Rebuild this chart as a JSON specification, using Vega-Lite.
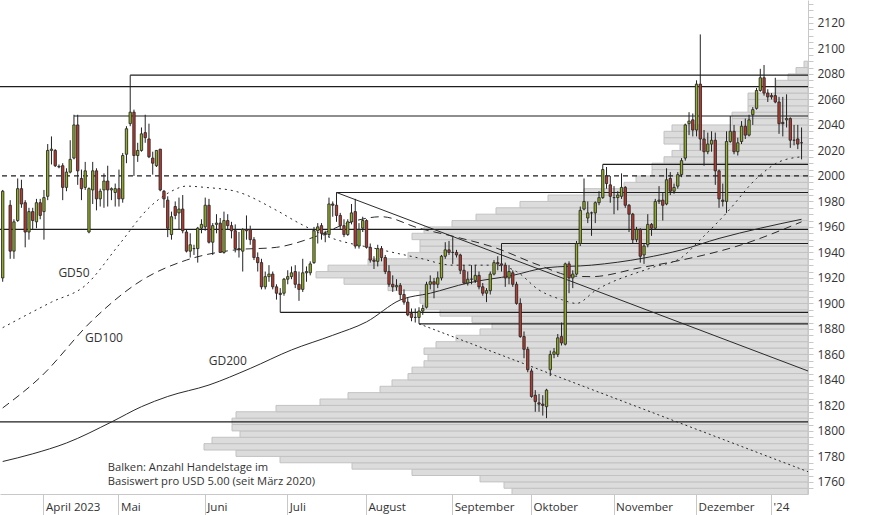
{
"$schema": "https://vega.github.io/schema/vega-lite/v6.json",
"width": 808, "height": 494,
"autosize": {"type": "none"},
"padding": {"left": 0, "top": 0, "right": 66, "bottom": 21},
"background": "white",
"config": {"view": {"stroke": null}, "font": "Open Sans"},
"datasets": {
"profile": [{"lo":1750,"hi":1755,"n":74},{"lo":1755,"hi":1760,"n":76},{"lo":1760,"hi":1765,"n":82},{"lo":1765,"hi":1770,"n":99},{"lo":1770,"hi":1775,"n":114},{"lo":1775,"hi":1780,"n":132},{"lo":1780,"hi":1785,"n":143},{"lo":1785,"hi":1790,"n":151},{"lo":1790,"hi":1795,"n":149},{"lo":1795,"hi":1800,"n":142},{"lo":1800,"hi":1805,"n":144},{"lo":1805,"hi":1810,"n":144},{"lo":1810,"hi":1815,"n":143},{"lo":1815,"hi":1820,"n":133},{"lo":1820,"hi":1825,"n":122},{"lo":1825,"hi":1830,"n":115},{"lo":1830,"hi":1835,"n":107},{"lo":1835,"hi":1840,"n":104},{"lo":1840,"hi":1845,"n":100},{"lo":1845,"hi":1850,"n":99},{"lo":1850,"hi":1855,"n":96},{"lo":1855,"hi":1860,"n":95},{"lo":1860,"hi":1865,"n":96},{"lo":1865,"hi":1870,"n":93},{"lo":1870,"hi":1875,"n":88},{"lo":1875,"hi":1880,"n":82},{"lo":1880,"hi":1885,"n":79},{"lo":1885,"hi":1890,"n":84},{"lo":1890,"hi":1895,"n":92},{"lo":1895,"hi":1900,"n":96},{"lo":1900,"hi":1905,"n":97},{"lo":1905,"hi":1910,"n":97},{"lo":1910,"hi":1915,"n":105},{"lo":1915,"hi":1920,"n":116},{"lo":1920,"hi":1925,"n":123},{"lo":1925,"hi":1930,"n":120},{"lo":1930,"hi":1935,"n":110},{"lo":1935,"hi":1940,"n":100},{"lo":1940,"hi":1945,"n":97},{"lo":1945,"hi":1950,"n":97},{"lo":1950,"hi":1955,"n":99},{"lo":1955,"hi":1960,"n":96},{"lo":1960,"hi":1965,"n":89},{"lo":1965,"hi":1970,"n":83},{"lo":1970,"hi":1975,"n":78},{"lo":1975,"hi":1980,"n":72},{"lo":1980,"hi":1985,"n":65},{"lo":1985,"hi":1990,"n":56},{"lo":1990,"hi":1995,"n":46},{"lo":1995,"hi":2000,"n":43},{"lo":2000,"hi":2005,"n":39},{"lo":2005,"hi":2010,"n":39},{"lo":2010,"hi":2015,"n":36},{"lo":2015,"hi":2020,"n":34},{"lo":2020,"hi":2025,"n":32},{"lo":2025,"hi":2030,"n":36},{"lo":2030,"hi":2035,"n":36},{"lo":2035,"hi":2040,"n":34},{"lo":2040,"hi":2045,"n":19},{"lo":2045,"hi":2050,"n":19},{"lo":2050,"hi":2055,"n":15},{"lo":2055,"hi":2060,"n":15},{"lo":2060,"hi":2065,"n":15},{"lo":2065,"hi":2070,"n":8},{"lo":2070,"hi":2075,"n":8},{"lo":2075,"hi":2080,"n":5},{"lo":2080,"hi":2085,"n":3},{"lo":2085,"hi":2090,"n":1}],
"candles": [
{"d":"2023-03-17","o":1920,"h":1989,"l":1917,"c":1988},
{"d":"2023-03-21","o":1977,"h":1981,"l":1935,"c":1941},
{"d":"2023-03-22","o":1941,"h":1966,"l":1935,"c":1964},
{"d":"2023-03-23","o":1965,"h":1998,"l":1964,"c":1990},
{"d":"2023-03-24","o":1990,"h":1997,"l":1975,"c":1978},
{"d":"2023-03-27","o":1979,"h":1981,"l":1944,"c":1956},
{"d":"2023-03-28","o":1956,"h":1975,"l":1950,"c":1972},
{"d":"2023-03-29","o":1972,"h":1975,"l":1958,"c":1965},
{"d":"2023-03-30","o":1964,"h":1982,"l":1959,"c":1979},
{"d":"2023-03-31","o":1979,"h":1982,"l":1966,"c":1969},
{"d":"2023-04-03","o":1972,"h":1989,"l":1950,"c":1983},
{"d":"2023-04-04","o":1984,"h":2025,"l":1981,"c":2020},
{"d":"2023-04-05","o":2020,"h":2031,"l":2009,"c":2021},
{"d":"2023-04-06","o":2020,"h":2021,"l":2007,"c":2008},
{"d":"2023-04-07","o":2007,"h":2009,"l":2006,"c":2007.5},
{"d":"2023-04-10","o":2008,"h":2010,"l":1981,"c":1991},
{"d":"2023-04-11","o":1991,"h":2006,"l":1988,"c":2003},
{"d":"2023-04-12","o":2003,"h":2028,"l":2002,"c":2013},
{"d":"2023-04-13","o":2014,"h":2048,"l":2013,"c":2040},
{"d":"2023-04-14","o":2040,"h":2048,"l":1993,"c":2004},
{"d":"2023-04-17","o":1998,"h":2005,"l":1981,"c":1990},
{"d":"2023-04-18","o":1991,"h":2011,"l":1989,"c":2004},
{"d":"2023-04-19","o":1956,"h":1991,"l":1955,"c":1990},
{"d":"2023-04-20","o":1989,"h":2011,"l":1978,"c":2004},
{"d":"2023-04-21","o":2004,"h":2006,"l":1973,"c":1982},
{"d":"2023-04-24","o":1982,"h":1990,"l":1976,"c":1988},
{"d":"2023-04-25","o":1989,"h":2002,"l":1975,"c":1996},
{"d":"2023-04-26","o":1996,"h":2008,"l":1976,"c":1989},
{"d":"2023-04-27","o":1989,"h":1991,"l":1981,"c":1990},
{"d":"2023-04-28","o":1987,"h":1994,"l":1976,"c":1990},
{"d":"2023-05-01","o":1990,"h":2005,"l":1976,"c":1982},
{"d":"2023-05-02","o":1982,"h":2018,"l":1979,"c":2016},
{"d":"2023-05-03","o":2017,"h":2039,"l":2010,"c":2037},
{"d":"2023-05-04","o":2041,"h":2079,"l":2039,"c":2050},
{"d":"2023-05-05","o":2050,"h":2052,"l":2000,"c":2016},
{"d":"2023-05-08","o":2016,"h":2026,"l":2011,"c":2020},
{"d":"2023-05-09","o":2020,"h":2038,"l":2019,"c":2033},
{"d":"2023-05-10","o":2034,"h":2048,"l":2026,"c":2030},
{"d":"2023-05-11","o":2029,"h":2041,"l":2014,"c":2015},
{"d":"2023-05-12","o":2014,"h":2019,"l":2001,"c":2010},
{"d":"2023-05-15","o":2008,"h":2020,"l":2007,"c":2020},
{"d":"2023-05-16","o":2021,"h":2021,"l":1988,"c":1989},
{"d":"2023-05-17","o":1988,"h":1989,"l":1975,"c":1982},
{"d":"2023-05-18","o":1981,"h":1984,"l":1952,"c":1959},
{"d":"2023-05-19","o":1954,"h":1972,"l":1950,"c":1968},
{"d":"2023-05-22","o":1976,"h":1980,"l":1966,"c":1969},
{"d":"2023-05-23","o":1971,"h":1983,"l":1958,"c":1974},
{"d":"2023-05-24","o":1974,"h":1985,"l":1955,"c":1957},
{"d":"2023-05-25","o":1956,"h":1958,"l":1940,"c":1941},
{"d":"2023-05-26","o":1941,"h":1955,"l":1936,"c":1946},
{"d":"2023-05-29","o":1943,"h":1946,"l":1938,"c":1943},
{"d":"2023-05-30","o":1943,"h":1960,"l":1932,"c":1959},
{"d":"2023-05-31","o":1959,"h":1966,"l":1955,"c":1962},
{"d":"2023-06-01","o":1960,"h":1983,"l":1957,"c":1977},
{"d":"2023-06-02","o":1977,"h":1982,"l":1947,"c":1948},
{"d":"2023-06-05","o":1948,"h":1963,"l":1938,"c":1961},
{"d":"2023-06-06","o":1962,"h":1970,"l":1955,"c":1963},
{"d":"2023-06-07","o":1963,"h":1967,"l":1940,"c":1940},
{"d":"2023-06-08","o":1940,"h":1972,"l":1939,"c":1965},
{"d":"2023-06-09","o":1965,"h":1970,"l":1958,"c":1961},
{"d":"2023-06-12","o":1961,"h":1964,"l":1951,"c":1957},
{"d":"2023-06-13","o":1957,"h":1962,"l":1940,"c":1943},
{"d":"2023-06-14","o":1943,"h":1956,"l":1936,"c":1942},
{"d":"2023-06-15","o":1941,"h":1959,"l":1925,"c":1958},
{"d":"2023-06-16","o":1958,"h":1969,"l":1950,"c":1957},
{"d":"2023-06-19","o":1958,"h":1961,"l":1946,"c":1950},
{"d":"2023-06-20","o":1950,"h":1952,"l":1934,"c":1936},
{"d":"2023-06-21","o":1936,"h":1940,"l":1925,"c":1932},
{"d":"2023-06-22","o":1932,"h":1935,"l":1911,"c":1913},
{"d":"2023-06-23","o":1913,"h":1925,"l":1911,"c":1921},
{"d":"2023-06-26","o":1921,"h":1930,"l":1917,"c":1923},
{"d":"2023-06-27","o":1923,"h":1925,"l":1911,"c":1913},
{"d":"2023-06-28","o":1913,"h":1915,"l":1903,"c":1908},
{"d":"2023-06-29","o":1908,"h":1912,"l":1893,"c":1907},
{"d":"2023-06-30","o":1908,"h":1920,"l":1906,"c":1919},
{"d":"2023-07-03","o":1919,"h":1926,"l":1915,"c":1921},
{"d":"2023-07-04","o":1921,"h":1929,"l":1919,"c":1924},
{"d":"2023-07-05","o":1925,"h":1930,"l":1912,"c":1915},
{"d":"2023-07-06","o":1915,"h":1925,"l":1902,"c":1911},
{"d":"2023-07-07","o":1911,"h":1935,"l":1909,"c":1924},
{"d":"2023-07-10","o":1924,"h":1929,"l":1917,"c":1925},
{"d":"2023-07-11","o":1924,"h":1933,"l":1922,"c":1931},
{"d":"2023-07-12","o":1932,"h":1960,"l":1931,"c":1957},
{"d":"2023-07-13","o":1957,"h":1963,"l":1947,"c":1960},
{"d":"2023-07-14","o":1961,"h":1963,"l":1950,"c":1955},
{"d":"2023-07-17","o":1955,"h":1957,"l":1948,"c":1954},
{"d":"2023-07-18","o":1954,"h":1983,"l":1952,"c":1978},
{"d":"2023-07-19","o":1978,"h":1980,"l":1968,"c":1977},
{"d":"2023-07-20","o":1977,"h":1987,"l":1964,"c":1969},
{"d":"2023-07-21","o":1969,"h":1971,"l":1958,"c":1961},
{"d":"2023-07-24","o":1961,"h":1966,"l":1952,"c":1954},
{"d":"2023-07-25","o":1954,"h":1966,"l":1953,"c":1964},
{"d":"2023-07-26","o":1964,"h":1978,"l":1962,"c":1971},
{"d":"2023-07-27","o":1972,"h":1982,"l":1943,"c":1945},
{"d":"2023-07-28","o":1945,"h":1963,"l":1943,"c":1958},
{"d":"2023-07-31","o":1959,"h":1968,"l":1956,"c":1965},
{"d":"2023-08-01","o":1965,"h":1966,"l":1943,"c":1944},
{"d":"2023-08-02","o":1944,"h":1947,"l":1932,"c":1934},
{"d":"2023-08-03","o":1934,"h":1937,"l":1927,"c":1933},
{"d":"2023-08-04","o":1933,"h":1946,"l":1929,"c":1943},
{"d":"2023-08-07","o":1943,"h":1945,"l":1933,"c":1936},
{"d":"2023-08-08","o":1936,"h":1938,"l":1923,"c":1925},
{"d":"2023-08-09","o":1925,"h":1930,"l":1913,"c":1915},
{"d":"2023-08-10","o":1915,"h":1922,"l":1909,"c":1913},
{"d":"2023-08-11","o":1913,"h":1919,"l":1910,"c":1914},
{"d":"2023-08-14","o":1914,"h":1916,"l":1903,"c":1907},
{"d":"2023-08-15","o":1907,"h":1911,"l":1899,"c":1901},
{"d":"2023-08-16","o":1901,"h":1905,"l":1890,"c":1891},
{"d":"2023-08-17","o":1892,"h":1896,"l":1886,"c":1889},
{"d":"2023-08-18","o":1889,"h":1896,"l":1885,"c":1889},
{"d":"2023-08-21","o":1889,"h":1897,"l":1884,"c":1894},
{"d":"2023-08-22","o":1894,"h":1899,"l":1891,"c":1896},
{"d":"2023-08-23","o":1897,"h":1917,"l":1896,"c":1915},
{"d":"2023-08-24","o":1915,"h":1922,"l":1911,"c":1917},
{"d":"2023-08-25","o":1917,"h":1920,"l":1904,"c":1915},
{"d":"2023-08-28","o":1915,"h":1925,"l":1912,"c":1920},
{"d":"2023-08-29","o":1920,"h":1938,"l":1918,"c":1937},
{"d":"2023-08-30","o":1937,"h":1948,"l":1935,"c":1942},
{"d":"2023-08-31","o":1942,"h":1949,"l":1938,"c":1940},
{"d":"2023-09-01","o":1940,"h":1952,"l":1931,"c":1940},
{"d":"2023-09-04","o":1940,"h":1942,"l":1936,"c":1938},
{"d":"2023-09-05","o":1938,"h":1939,"l":1923,"c":1926},
{"d":"2023-09-06","o":1926,"h":1930,"l":1915,"c":1916},
{"d":"2023-09-07","o":1916,"h":1925,"l":1914,"c":1919},
{"d":"2023-09-08","o":1919,"h":1930,"l":1915,"c":1919},
{"d":"2023-09-11","o":1918,"h":1930,"l":1916,"c":1922},
{"d":"2023-09-12","o":1922,"h":1925,"l":1911,"c":1913},
{"d":"2023-09-13","o":1913,"h":1916,"l":1906,"c":1908},
{"d":"2023-09-14","o":1908,"h":1912,"l":1901,"c":1910},
{"d":"2023-09-15","o":1910,"h":1925,"l":1907,"c":1923},
{"d":"2023-09-18","o":1923,"h":1934,"l":1922,"c":1932},
{"d":"2023-09-19","o":1932,"h":1937,"l":1926,"c":1931},
{"d":"2023-09-20","o":1931,"h":1947,"l":1925,"c":1930},
{"d":"2023-09-21","o":1930,"h":1932,"l":1913,"c":1920},
{"d":"2023-09-22","o":1920,"h":1930,"l":1915,"c":1925},
{"d":"2023-09-25","o":1924,"h":1926,"l":1913,"c":1915},
{"d":"2023-09-26","o":1915,"h":1917,"l":1899,"c":1900},
{"d":"2023-09-27","o":1900,"h":1904,"l":1873,"c":1874},
{"d":"2023-09-28","o":1874,"h":1878,"l":1857,"c":1864},
{"d":"2023-09-29","o":1864,"h":1866,"l":1846,"c":1848},
{"d":"2023-10-02","o":1847,"h":1849,"l":1826,"c":1827},
{"d":"2023-10-03","o":1828,"h":1832,"l":1815,"c":1823},
{"d":"2023-10-04","o":1822,"h":1829,"l":1815,"c":1821},
{"d":"2023-10-05","o":1821,"h":1828,"l":1812,"c":1820},
{"d":"2023-10-06","o":1819,"h":1833,"l":1810,"c":1832},
{"d":"2023-10-09","o":1848,"h":1863,"l":1843,"c":1860},
{"d":"2023-10-10","o":1860,"h":1865,"l":1857,"c":1862},
{"d":"2023-10-11","o":1860,"h":1876,"l":1858,"c":1873},
{"d":"2023-10-12","o":1874,"h":1885,"l":1867,"c":1869},
{"d":"2023-10-13","o":1868,"h":1932,"l":1867,"c":1931},
{"d":"2023-10-16","o":1931,"h":1933,"l":1908,"c":1920},
{"d":"2023-10-17","o":1920,"h":1926,"l":1912,"c":1923},
{"d":"2023-10-18","o":1923,"h":1949,"l":1922,"c":1947},
{"d":"2023-10-19","o":1947,"h":1976,"l":1945,"c":1973},
{"d":"2023-10-20","o":1974,"h":1998,"l":1973,"c":1980},
{"d":"2023-10-23","o":1967,"h":1980,"l":1963,"c":1971},
{"d":"2023-10-24","o":1971,"h":1972,"l":1953,"c":1971},
{"d":"2023-10-25","o":1971,"h":1980,"l":1963,"c":1979},
{"d":"2023-10-26","o":1979,"h":1988,"l":1977,"c":1983},
{"d":"2023-10-27","o":1983,"h":2009,"l":1982,"c":2005},
{"d":"2023-10-30","o":2000,"h":2007,"l":1990,"c":1994},
{"d":"2023-10-31","o":1993,"h":2000,"l":1979,"c":1984},
{"d":"2023-11-01","o":1983,"h":1992,"l":1970,"c":1983},
{"d":"2023-11-02","o":1983,"h":1988,"l":1973,"c":1985},
{"d":"2023-11-03","o":1984,"h":2002,"l":1982,"c":1991},
{"d":"2023-11-06","o":1991,"h":1992,"l":1975,"c":1977},
{"d":"2023-11-07","o":1977,"h":1978,"l":1956,"c":1970},
{"d":"2023-11-08","o":1970,"h":1971,"l":1947,"c":1950},
{"d":"2023-11-09","o":1950,"h":1960,"l":1948,"c":1958},
{"d":"2023-11-10","o":1958,"h":1959,"l":1932,"c":1937},
{"d":"2023-11-13","o":1938,"h":1947,"l":1931,"c":1945},
{"d":"2023-11-14","o":1946,"h":1970,"l":1944,"c":1962},
{"d":"2023-11-15","o":1962,"h":1963,"l":1953,"c":1959},
{"d":"2023-11-16","o":1959,"h":1982,"l":1958,"c":1980},
{"d":"2023-11-17","o":1980,"h":1992,"l":1978,"c":1981},
{"d":"2023-11-20","o":1981,"h":1987,"l":1965,"c":1977},
{"d":"2023-11-21","o":1978,"h":2006,"l":1977,"c":1997},
{"d":"2023-11-22","o":1998,"h":2003,"l":1985,"c":1988},
{"d":"2023-11-23","o":1988,"h":1994,"l":1986,"c":1991},
{"d":"2023-11-24","o":1992,"h":2003,"l":1990,"c":2001},
{"d":"2023-11-27","o":2001,"h":2014,"l":1999,"c":2012},
{"d":"2023-11-28","o":2014,"h":2041,"l":2012,"c":2040},
{"d":"2023-11-29","o":2041,"h":2050,"l":2032,"c":2043},
{"d":"2023-11-30","o":2044,"h":2049,"l":2031,"c":2036},
{"d":"2023-12-01","o":2036,"h":2075,"l":2031,"c":2072},
{"d":"2023-12-04","o":2072,"h":2111,"l":2020,"c":2029},
{"d":"2023-12-05","o":2029,"h":2036,"l":2008,"c":2019},
{"d":"2023-12-06","o":2019,"h":2034,"l":2017,"c":2025},
{"d":"2023-12-07","o":2025,"h":2035,"l":2019,"c":2028},
{"d":"2023-12-08","o":2028,"h":2034,"l":1993,"c":2004},
{"d":"2023-12-11","o":2004,"h":2005,"l":1975,"c":1982},
{"d":"2023-12-12","o":1981,"h":1994,"l":1976,"c":1980},
{"d":"2023-12-13","o":1980,"h":2035,"l":1971,"c":2027},
{"d":"2023-12-14","o":2027,"h":2047,"l":2026,"c":2035},
{"d":"2023-12-15","o":2035,"h":2040,"l":2017,"c":2019},
{"d":"2023-12-18","o":2019,"h":2030,"l":2016,"c":2026},
{"d":"2023-12-19","o":2027,"h":2043,"l":2025,"c":2039},
{"d":"2023-12-20","o":2039,"h":2045,"l":2029,"c":2032},
{"d":"2023-12-21","o":2032,"h":2048,"l":2031,"c":2044},
{"d":"2023-12-22","o":2048,"h":2054,"l":2040,"c":2052},
{"d":"2023-12-26","o":2053,"h":2069,"l":2052,"c":2067},
{"d":"2023-12-27","o":2067,"h":2084,"l":2066,"c":2077},
{"d":"2023-12-28","o":2077,"h":2087,"l":2063,"c":2065},
{"d":"2023-12-29","o":2065,"h":2068,"l":2058,"c":2062},
{"d":"2024-01-02","o":2063,"h":2065,"l":2060,"c":2062},
{"d":"2024-01-03","o":2063,"h":2077,"l":2057,"c":2058},
{"d":"2024-01-04","o":2058,"h":2062,"l":2033,"c":2041},
{"d":"2024-01-05","o":2042,"h":2062,"l":2031,"c":2041},
{"d":"2024-01-08","o":2044,"h":2064,"l":2038,"c":2045},
{"d":"2024-01-09","o":2045,"h":2046,"l":2022,"c":2028},
{"d":"2024-01-10","o":2028,"h":2040,"l":2024,"c":2028},
{"d":"2024-01-11","o":2029,"h":2040,"l":2021,"c":2025},
{"d":"2024-01-12","o":2026,"h":2038,"l":2013,"c":2026}
],
"gd50": [{"d":"2023-03-17","v":1881},{"d":"2023-04-05","v":1901},{"d":"2023-04-18","v":1914},{"d":"2023-05-01","v":1946},{"d":"2023-05-11","v":1975},{"d":"2023-05-19","v":1988},{"d":"2023-05-25","v":1992},{"d":"2023-06-01","v":1991},{"d":"2023-06-13","v":1988},{"d":"2023-06-28","v":1973},{"d":"2023-07-06","v":1963},{"d":"2023-07-18","v":1952},{"d":"2023-08-07","v":1942},{"d":"2023-08-21","v":1935.6},{"d":"2023-09-01","v":1930},{"d":"2023-09-18","v":1930},{"d":"2023-09-26","v":1925},{"d":"2023-10-04","v":1910.5},{"d":"2023-10-12","v":1903},{"d":"2023-10-18","v":1900},{"d":"2023-10-25","v":1910},{"d":"2023-11-15","v":1928},{"d":"2023-11-27","v":1936},{"d":"2023-12-04","v":1950},{"d":"2023-12-13","v":1971},{"d":"2023-12-26","v":1998},{"d":"2024-01-04","v":2011},{"d":"2024-01-12","v":2015}],
"gd100": [{"d":"2023-03-17","v":1818},{"d":"2023-03-31","v":1842},{"d":"2023-04-20","v":1887},{"d":"2023-05-09","v":1918},{"d":"2023-05-25","v":1934},{"d":"2023-06-13","v":1942},{"d":"2023-06-28","v":1944},{"d":"2023-07-12","v":1952},{"d":"2023-07-26","v":1964},{"d":"2023-08-07","v":1968},{"d":"2023-08-21","v":1959},{"d":"2023-09-04","v":1952},{"d":"2023-09-18","v":1944},{"d":"2023-10-04","v":1930},{"d":"2023-10-17","v":1921.5},{"d":"2023-10-24","v":1921},{"d":"2023-11-10","v":1928},{"d":"2023-11-27","v":1934},{"d":"2023-12-19","v":1946},{"d":"2024-01-12","v":1964}],
"gd200": [{"d":"2023-03-17","v":1776},{"d":"2023-03-29","v":1782},{"d":"2023-04-11","v":1790.5},{"d":"2023-04-27","v":1807},{"d":"2023-05-09","v":1819},{"d":"2023-05-18","v":1827},{"d":"2023-06-02","v":1836},{"d":"2023-06-19","v":1849},{"d":"2023-07-04","v":1863.5},{"d":"2023-07-19","v":1875},{"d":"2023-08-01","v":1885.5},{"d":"2023-08-14","v":1902.7},{"d":"2023-08-24","v":1908},{"d":"2023-09-07","v":1916},{"d":"2023-09-25","v":1922},{"d":"2023-10-06","v":1928},{"d":"2023-10-24","v":1930},{"d":"2023-11-13","v":1935.6},{"d":"2023-11-27","v":1942},{"d":"2023-12-11","v":1951},{"d":"2023-12-27","v":1959},{"d":"2024-01-12","v":1966}]
},
"resolve": {"scale": {"x": "independent"}, "axis": {"x": "independent"}},
"layer": [
{
"data": {"name": "profile"},
"mark": {"type": "bar", "fill": "#dcdcdc", "stroke": "#c2c2c2", "strokeWidth": 1, "clip": true},
"encoding": {
"x": {"field": "n", "type": "quantitative", "scale": {"domain": [0, 202], "reverse": true, "nice": false, "zero": true}, "axis": null},
"x2": {"datum": 0},
"y": {"field": "lo", "type": "quantitative", "title": null, "scale": {"domain": [1750.5, 2138], "nice": false, "zero": false},
"axis": {"orient": "right", "title": null, "grid": false, "values": [1755,1760,1765,1770,1775,1780,1785,1790,1795,1800,1805,1810,1815,1820,1825,1830,1835,1840,1845,1850,1855,1860,1865,1870,1875,1880,1885,1890,1895,1900,1905,1910,1915,1920,1925,1930,1935,1940,1945,1950,1955,1960,1965,1970,1975,1980,1985,1990,1995,2000,2005,2010,2015,2020,2025,2030,2035,2040,2045,2050,2055,2060,2065,2070,2075,2080,2085,2090,2095,2100,2105,2110,2115,2120,2125,2130,2135], "labelExpr": "datum.value % 20 == 0 ? datum.label : ''", "tickSize": 5, "tickColor": "#c8c8c8", "domainColor": "#c8c8c8", "labelFont": "Open Sans", "labelFontSize": 12, "labelColor": "#333333", "labelPadding": 4, "labelOverlap": false, "labelBound": false, "format": "d"}},
"y2": {"field": "hi"}
}
},
{
"data": {"values": [{"p": 2070}, {"p": 1958}, {"p": 1807}]},
"mark": {"type": "rule", "stroke": "#1e1e1e", "strokeWidth": 1.2},
"encoding": {"y": {"field": "p", "type": "quantitative", "title": null, "scale": {"domain": [1750.5, 2138], "nice": false, "zero": false},
"axis": {"orient": "right", "title": null, "grid": false, "values": [1755,1760,1765,1770,1775,1780,1785,1790,1795,1800,1805,1810,1815,1820,1825,1830,1835,1840,1845,1850,1855,1860,1865,1870,1875,1880,1885,1890,1895,1900,1905,1910,1915,1920,1925,1930,1935,1940,1945,1950,1955,1960,1965,1970,1975,1980,1985,1990,1995,2000,2005,2010,2015,2020,2025,2030,2035,2040,2045,2050,2055,2060,2065,2070,2075,2080,2085,2090,2095,2100,2105,2110,2115,2120,2125,2130,2135], "labelExpr": "datum.value % 20 == 0 ? datum.label : ''", "tickSize": 5, "tickColor": "#c8c8c8", "domainColor": "#c8c8c8", "labelFont": "Open Sans", "labelFontSize": 12, "labelColor": "#333333", "labelPadding": 4, "labelOverlap": false, "labelBound": false, "format": "d"}}}
},
{
"data": {"values": [{"p": 2000}]},
"mark": {"type": "rule", "stroke": "#1e1e1e", "strokeWidth": 1.2, "strokeDash": [5, 4]},
"encoding": {"y": {"field": "p", "type": "quantitative", "title": null, "scale": {"domain": [1750.5, 2138], "nice": false, "zero": false},
"axis": {"orient": "right", "title": null, "grid": false, "values": [1755,1760,1765,1770,1775,1780,1785,1790,1795,1800,1805,1810,1815,1820,1825,1830,1835,1840,1845,1850,1855,1860,1865,1870,1875,1880,1885,1890,1895,1900,1905,1910,1915,1920,1925,1930,1935,1940,1945,1950,1955,1960,1965,1970,1975,1980,1985,1990,1995,2000,2005,2010,2015,2020,2025,2030,2035,2040,2045,2050,2055,2060,2065,2070,2075,2080,2085,2090,2095,2100,2105,2110,2115,2120,2125,2130,2135], "labelExpr": "datum.value % 20 == 0 ? datum.label : ''", "tickSize": 5, "tickColor": "#c8c8c8", "domainColor": "#c8c8c8", "labelFont": "Open Sans", "labelFontSize": 12, "labelColor": "#333333", "labelPadding": 4, "labelOverlap": false, "labelBound": false, "format": "d"}}}
},
{
"encoding": {
"x": {"field": "d", "type": "ordinal",
"scale": {"type": "band", "paddingInner": 0, "paddingOuter": 0.22, "domain": ["2023-03-17","2023-03-20","2023-03-21","2023-03-22","2023-03-23","2023-03-24","2023-03-27","2023-03-28","2023-03-29","2023-03-30","2023-03-31","2023-04-03","2023-04-04","2023-04-05","2023-04-06","2023-04-07","2023-04-10","2023-04-11","2023-04-12","2023-04-13","2023-04-14","2023-04-17","2023-04-18","2023-04-19","2023-04-20","2023-04-21","2023-04-24","2023-04-25","2023-04-26","2023-04-27","2023-04-28","2023-05-01","2023-05-02","2023-05-03","2023-05-04","2023-05-05","2023-05-08","2023-05-09","2023-05-10","2023-05-11","2023-05-12","2023-05-15","2023-05-16","2023-05-17","2023-05-18","2023-05-19","2023-05-22","2023-05-23","2023-05-24","2023-05-25","2023-05-26","2023-05-29","2023-05-30","2023-05-31","2023-06-01","2023-06-02","2023-06-05","2023-06-06","2023-06-07","2023-06-08","2023-06-09","2023-06-12","2023-06-13","2023-06-14","2023-06-15","2023-06-16","2023-06-19","2023-06-20","2023-06-21","2023-06-22","2023-06-23","2023-06-26","2023-06-27","2023-06-28","2023-06-29","2023-06-30","2023-07-03","2023-07-04","2023-07-05","2023-07-06","2023-07-07","2023-07-10","2023-07-11","2023-07-12","2023-07-13","2023-07-14","2023-07-17","2023-07-18","2023-07-19","2023-07-20","2023-07-21","2023-07-24","2023-07-25","2023-07-26","2023-07-27","2023-07-28","2023-07-31","2023-08-01","2023-08-02","2023-08-03","2023-08-04","2023-08-07","2023-08-08","2023-08-09","2023-08-10","2023-08-11","2023-08-14","2023-08-15","2023-08-16","2023-08-17","2023-08-18","2023-08-21","2023-08-22","2023-08-23","2023-08-24","2023-08-25","2023-08-28","2023-08-29","2023-08-30","2023-08-31","2023-09-01","2023-09-04","2023-09-05","2023-09-06","2023-09-07","2023-09-08","2023-09-11","2023-09-12","2023-09-13","2023-09-14","2023-09-15","2023-09-18","2023-09-19","2023-09-20","2023-09-21","2023-09-22","2023-09-25","2023-09-26","2023-09-27","2023-09-28","2023-09-29","2023-10-02","2023-10-03","2023-10-04","2023-10-05","2023-10-06","2023-10-09","2023-10-10","2023-10-11","2023-10-12","2023-10-13","2023-10-16","2023-10-17","2023-10-18","2023-10-19","2023-10-20","2023-10-23","2023-10-24","2023-10-25","2023-10-26","2023-10-27","2023-10-30","2023-10-31","2023-11-01","2023-11-02","2023-11-03","2023-11-06","2023-11-07","2023-11-08","2023-11-09","2023-11-10","2023-11-13","2023-11-14","2023-11-15","2023-11-16","2023-11-17","2023-11-20","2023-11-21","2023-11-22","2023-11-23","2023-11-24","2023-11-27","2023-11-28","2023-11-29","2023-11-30","2023-12-01","2023-12-04","2023-12-05","2023-12-06","2023-12-07","2023-12-08","2023-12-11","2023-12-12","2023-12-13","2023-12-14","2023-12-15","2023-12-18","2023-12-19","2023-12-20","2023-12-21","2023-12-22","2023-12-26","2023-12-27","2023-12-28","2023-12-29","2024-01-02","2024-01-03","2024-01-04","2024-01-05","2024-01-08","2024-01-09","2024-01-10","2024-01-11","2024-01-12","2024-01-15"]},
"axis": {"orient": "bottom", "title": null, "grid": false, "values": ["2023-04-03","2023-05-01","2023-06-01","2023-07-03","2023-08-01","2023-09-01","2023-10-02","2023-11-01","2023-12-01","2024-01-02"],
"labelExpr": "datum.value == '2023-04-03' ? 'April 2023' : datum.value == '2023-05-01' ? 'Mai' : datum.value == '2023-06-01' ? 'Juni' : datum.value == '2023-07-03' ? 'Juli' : datum.value == '2023-08-01' ? 'August' : datum.value == '2023-09-01' ? 'September' : datum.value == '2023-10-02' ? 'Oktober' : datum.value == '2023-11-01' ? 'November' : datum.value == '2023-12-01' ? 'Dezember' : \"'24\"",
"bandPosition": 0.5, "tickSize": 21, "tickColor": "#c8c8c8", "domainColor": "#c8c8c8", "labelAlign": "left", "labelBaseline": "alphabetic", "labelPadding": -5, "labelOffset": 2, "labelAngle": 0, "labelFont": "Open Sans", "labelFontSize": 11.6, "labelColor": "#333333", "labelOverlap": false, "labelBound": false}},
"y": {"field": "p", "type": "quantitative", "title": null, "scale": {"domain": [1750.5, 2138], "nice": false, "zero": false},
"axis": {"orient": "right", "title": null, "grid": false, "values": [1755,1760,1765,1770,1775,1780,1785,1790,1795,1800,1805,1810,1815,1820,1825,1830,1835,1840,1845,1850,1855,1860,1865,1870,1875,1880,1885,1890,1895,1900,1905,1910,1915,1920,1925,1930,1935,1940,1945,1950,1955,1960,1965,1970,1975,1980,1985,1990,1995,2000,2005,2010,2015,2020,2025,2030,2035,2040,2045,2050,2055,2060,2065,2070,2075,2080,2085,2090,2095,2100,2105,2110,2115,2120,2125,2130,2135], "labelExpr": "datum.value % 20 == 0 ? datum.label : ''", "tickSize": 5, "tickColor": "#c8c8c8", "domainColor": "#c8c8c8", "labelFont": "Open Sans", "labelFontSize": 12, "labelColor": "#333333", "labelPadding": 4, "labelOverlap": false, "labelBound": false, "format": "d"}}
},
"layer": [
{
"data": {"values": [{"d":"2023-05-04","p":2079},{"d":"2023-04-13","p":2047},{"d":"2023-10-27","p":2009},{"d":"2023-07-20","p":1987},{"d":"2023-09-20","p":1947},{"d":"2023-06-29","p":1893},{"d":"2023-08-21","p":1884}]},
"mark": {"type": "rule", "stroke": "#1e1e1e", "strokeWidth": 1.2},
"encoding": {"x2": {"value": "width"}}
},
{
"data": {"values": [{"d":"2023-07-20","p":1987,"p2":1847}]},
"mark": {"type": "rule", "stroke": "#2a2a2a", "strokeWidth": 1},
"encoding": {"y2": {"field": "p2"}, "x2": {"value": "width"}}
},
{
"data": {"values": [{"d":"2023-08-21","p":1884,"p2":1768}]},
"mark": {"type": "rule", "stroke": "#2a2a2a", "strokeWidth": 1, "strokeDash": [2, 3]},
"encoding": {"y2": {"field": "p2"}, "x2": {"value": "width"}}
},
{
"data": {"name": "gd50"},
"mark": {"type": "line", "stroke": "#2a2a2a", "strokeWidth": 1, "strokeDash": [2, 4], "interpolate": "monotone"},
"encoding": {"y": {"field": "v", "type": "quantitative", "title": null, "scale": {"domain": [1750.5, 2138], "nice": false, "zero": false},
"axis": {"orient": "right", "title": null, "grid": false, "values": [1755,1760,1765,1770,1775,1780,1785,1790,1795,1800,1805,1810,1815,1820,1825,1830,1835,1840,1845,1850,1855,1860,1865,1870,1875,1880,1885,1890,1895,1900,1905,1910,1915,1920,1925,1930,1935,1940,1945,1950,1955,1960,1965,1970,1975,1980,1985,1990,1995,2000,2005,2010,2015,2020,2025,2030,2035,2040,2045,2050,2055,2060,2065,2070,2075,2080,2085,2090,2095,2100,2105,2110,2115,2120,2125,2130,2135], "labelExpr": "datum.value % 20 == 0 ? datum.label : ''", "tickSize": 5, "tickColor": "#c8c8c8", "domainColor": "#c8c8c8", "labelFont": "Open Sans", "labelFontSize": 12, "labelColor": "#333333", "labelPadding": 4, "labelOverlap": false, "labelBound": false, "format": "d"}}}
},
{
"data": {"name": "gd100"},
"mark": {"type": "line", "stroke": "#2a2a2a", "strokeWidth": 1, "strokeDash": [8, 5], "interpolate": "monotone"},
"encoding": {"y": {"field": "v", "type": "quantitative", "title": null, "scale": {"domain": [1750.5, 2138], "nice": false, "zero": false},
"axis": {"orient": "right", "title": null, "grid": false, "values": [1755,1760,1765,1770,1775,1780,1785,1790,1795,1800,1805,1810,1815,1820,1825,1830,1835,1840,1845,1850,1855,1860,1865,1870,1875,1880,1885,1890,1895,1900,1905,1910,1915,1920,1925,1930,1935,1940,1945,1950,1955,1960,1965,1970,1975,1980,1985,1990,1995,2000,2005,2010,2015,2020,2025,2030,2035,2040,2045,2050,2055,2060,2065,2070,2075,2080,2085,2090,2095,2100,2105,2110,2115,2120,2125,2130,2135], "labelExpr": "datum.value % 20 == 0 ? datum.label : ''", "tickSize": 5, "tickColor": "#c8c8c8", "domainColor": "#c8c8c8", "labelFont": "Open Sans", "labelFontSize": 12, "labelColor": "#333333", "labelPadding": 4, "labelOverlap": false, "labelBound": false, "format": "d"}}}
},
{
"data": {"name": "gd200"},
"mark": {"type": "line", "stroke": "#2a2a2a", "strokeWidth": 1, "interpolate": "monotone"},
"encoding": {"y": {"field": "v", "type": "quantitative", "title": null, "scale": {"domain": [1750.5, 2138], "nice": false, "zero": false},
"axis": {"orient": "right", "title": null, "grid": false, "values": [1755,1760,1765,1770,1775,1780,1785,1790,1795,1800,1805,1810,1815,1820,1825,1830,1835,1840,1845,1850,1855,1860,1865,1870,1875,1880,1885,1890,1895,1900,1905,1910,1915,1920,1925,1930,1935,1940,1945,1950,1955,1960,1965,1970,1975,1980,1985,1990,1995,2000,2005,2010,2015,2020,2025,2030,2035,2040,2045,2050,2055,2060,2065,2070,2075,2080,2085,2090,2095,2100,2105,2110,2115,2120,2125,2130,2135], "labelExpr": "datum.value % 20 == 0 ? datum.label : ''", "tickSize": 5, "tickColor": "#c8c8c8", "domainColor": "#c8c8c8", "labelFont": "Open Sans", "labelFontSize": 12, "labelColor": "#333333", "labelPadding": 4, "labelOverlap": false, "labelBound": false, "format": "d"}}}
},
{
"data": {"name": "candles"},
"mark": {"type": "rule", "stroke": "#222222", "strokeWidth": 1},
"encoding": {"y": {"field": "l", "type": "quantitative", "title": null, "scale": {"domain": [1750.5, 2138], "nice": false, "zero": false},
"axis": {"orient": "right", "title": null, "grid": false, "values": [1755,1760,1765,1770,1775,1780,1785,1790,1795,1800,1805,1810,1815,1820,1825,1830,1835,1840,1845,1850,1855,1860,1865,1870,1875,1880,1885,1890,1895,1900,1905,1910,1915,1920,1925,1930,1935,1940,1945,1950,1955,1960,1965,1970,1975,1980,1985,1990,1995,2000,2005,2010,2015,2020,2025,2030,2035,2040,2045,2050,2055,2060,2065,2070,2075,2080,2085,2090,2095,2100,2105,2110,2115,2120,2125,2130,2135], "labelExpr": "datum.value % 20 == 0 ? datum.label : ''", "tickSize": 5, "tickColor": "#c8c8c8", "domainColor": "#c8c8c8", "labelFont": "Open Sans", "labelFontSize": 12, "labelColor": "#333333", "labelPadding": 4, "labelOverlap": false, "labelBound": false, "format": "d"}}, "y2": {"field": "h"}}
},
{
"data": {"name": "candles"},
"mark": {"type": "bar", "width": {"band": 0.62}, "stroke": "#2a2a2a", "strokeWidth": 0.9},
"encoding": {
"y": {"field": "o", "type": "quantitative", "title": null, "scale": {"domain": [1750.5, 2138], "nice": false, "zero": false},
"axis": {"orient": "right", "title": null, "grid": false, "values": [1755,1760,1765,1770,1775,1780,1785,1790,1795,1800,1805,1810,1815,1820,1825,1830,1835,1840,1845,1850,1855,1860,1865,1870,1875,1880,1885,1890,1895,1900,1905,1910,1915,1920,1925,1930,1935,1940,1945,1950,1955,1960,1965,1970,1975,1980,1985,1990,1995,2000,2005,2010,2015,2020,2025,2030,2035,2040,2045,2050,2055,2060,2065,2070,2075,2080,2085,2090,2095,2100,2105,2110,2115,2120,2125,2130,2135], "labelExpr": "datum.value % 20 == 0 ? datum.label : ''", "tickSize": 5, "tickColor": "#c8c8c8", "domainColor": "#c8c8c8", "labelFont": "Open Sans", "labelFontSize": 12, "labelColor": "#333333", "labelPadding": 4, "labelOverlap": false, "labelBound": false, "format": "d"}},
"y2": {"field": "c"},
"fill": {"condition": {"test": "datum.c >= datum.o", "value": "#94b31f"}, "value": "#c1392b"}
}
},
{
"data": {"values": [{"d":"2023-04-13","p":1924,"t":"GD50"},{"d":"2023-04-25","p":1872.7,"t":"GD100"},{"d":"2023-06-09","p":1855,"t":"GD200"}]},
"mark": {"type": "text", "font": "Open Sans", "fontSize": 12, "color": "#333333", "align": "center", "baseline": "middle"},
"encoding": {"text": {"field": "t"}}
},
{
"data": {"values": [{"d":"2023-04-26","p":1771,"t":"Balken: Anzahl Handelstage im"},{"d":"2023-04-26","p":1760,"t":"Basiswert pro USD 5.00 (seit März 2020)"}]},
"mark": {"type": "text", "font": "Open Sans", "fontSize": 11.2, "color": "#333333", "align": "left", "baseline": "middle"},
"encoding": {"text": {"field": "t"}}
}
]
}
]
}
